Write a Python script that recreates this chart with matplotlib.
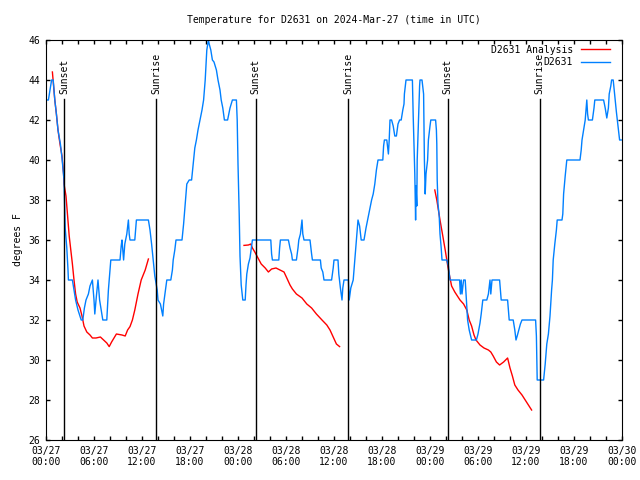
import matplotlib
matplotlib.use('Agg')
import matplotlib.pyplot as plt
import matplotlib.dates as mdates
import pandas as pd

# observations: hours after 2024-03-27 00:00 UTC, degrees F
obs_hours = [0.0, 0.3, 0.5, 0.7, 0.9, 1.1, 1.3, 1.5, 1.8, 2.0, 2.2, 2.25, 2.4, 2.6, 2.75, 2.8,
             3.3, 3.5, 3.7, 4.0, 4.4, 4.6, 4.8, 5.0, 5.3, 5.5, 5.8, 6.0, 6.1, 6.3, 6.5, 6.7,
             6.9, 7.1, 7.6, 7.8, 8.1, 9.25, 9.4, 9.5, 9.7, 9.85, 10.1, 10.3, 10.4, 10.5, 11.1,
             11.3, 12.8, 13.0, 13.2, 13.4, 13.6, 13.9, 14.0, 14.3, 14.6, 14.7, 15.1, 15.6,
             15.8, 15.9, 16.1, 16.25, 17.0, 17.2, 17.4, 17.6, 17.9, 18.2, 18.4, 18.6, 18.8,
             19.0, 19.25, 19.5, 19.7, 19.9, 20.1, 20.3, 20.4, 20.6, 20.8, 21.0, 21.3, 21.5,
             21.75, 21.9, 22.1, 22.3, 22.7, 23.0, 23.3, 23.8, 23.9, 24.0, 24.15, 24.25, 24.4,
             24.6, 24.9, 25.0, 25.1, 25.3, 25.5, 25.6, 25.8, 28.1, 28.2, 28.3, 29.1, 29.2,
             29.3, 30.3, 30.5, 30.7, 30.8, 31.3, 31.5, 31.6, 31.8, 32.0, 32.1, 32.25, 33.0,
             33.2, 33.3, 34.3, 34.4, 34.6, 34.75, 35.7, 35.9, 36.0, 36.5, 36.6, 36.8, 37.0,
             37.1, 37.25, 37.8, 37.9, 38.1, 38.4, 38.6, 38.8, 39.0, 39.2, 39.4, 39.75, 40.0,
             40.3, 40.5, 40.7, 40.9, 41.1, 41.3, 41.5, 42.1, 42.2, 42.3, 42.6, 42.8, 42.9,
             43.0, 43.2, 43.4, 43.6, 43.8, 44.0, 44.2, 44.4, 44.6, 44.75, 44.8, 45.0, 45.8,
             45.9, 46.1, 46.2, 46.25, 46.35, 46.4, 46.6, 46.7, 46.75, 47.0, 47.2, 47.3, 47.4,
             47.5, 47.7, 47.8, 48.0, 48.1, 48.7, 48.8, 48.85, 48.9, 49.0, 49.15, 49.25, 49.4,
             49.5, 50.1, 50.3, 50.5, 51.7, 51.8, 51.9, 52.0, 52.2, 52.4, 52.6, 52.7, 52.9,
             53.2, 53.8, 54.0, 54.25, 54.4, 54.6, 55.1, 55.3, 55.5, 55.6, 55.75, 56.7, 56.9,
             57.7, 57.9, 58.4, 58.6, 58.75, 58.9, 59.1, 59.3, 59.5, 61.2, 61.3, 61.4, 62.2,
             62.4, 62.6, 62.8, 63.0, 63.2, 63.3, 63.4, 63.6, 63.8, 63.9, 64.5, 64.6, 64.7,
             64.9, 65.1, 66.75, 66.9, 67.0, 67.2, 67.4, 67.6, 67.7, 67.8, 68.3, 68.5, 68.6,
             69.7, 69.9, 70.1, 70.3, 70.4, 70.6, 70.7, 70.9, 71.1, 71.3, 71.5, 71.7, 71.9]
obs_temp = [43, 43, 43.5, 44, 44, 43, 42.3, 41.5, 40.8, 40.1, 39.2, 39, 36.6, 35.6, 34.5, 34,
            34, 33.5, 33, 32.5, 32, 32, 32.6, 33, 33.3, 33.7, 34, 33, 32.3, 33.2, 34, 33,
            32.5, 32, 32, 33.5, 35, 35, 35.7, 36, 35, 35.8, 36.3, 37, 36.3, 36, 36,
            37, 37, 36.5, 35.8, 35, 34.2, 33.5, 33, 32.8, 32.2, 32.8, 34, 34,
            34.5, 35, 35.5, 36, 36, 36.8, 37.8, 38.8, 39, 39, 39.8, 40.6, 41,
            41.5, 42, 42.5, 43, 44, 45.5, 46, 45.8, 45.5, 45, 44.9, 44.5, 44,
            43.5, 43, 42.6, 42, 42, 42.6, 43, 43, 42, 39.8, 37.3, 35.2, 33.75,
            33, 33, 33.75, 34.3, 34.8, 35.1, 35.4, 36, 36, 35.3, 35, 35, 35.6,
            36, 36, 35.6, 35.3, 35, 35, 35.6, 36, 36.3, 37, 36.3, 36, 36,
            35.3, 35, 35, 34.6, 34.4, 34, 34, 34.6, 35, 35, 34.3, 33.6, 33,
            33.6, 34, 34, 33, 33.6, 34, 35, 36, 37, 36.7, 36, 36, 36.6,
            37.2, 37.6, 38, 38.3, 38.8, 39.5, 40, 40, 40.7, 41, 41, 40.3, 41,
            42, 42, 41.7, 41.2, 41.2, 41.8, 42, 42, 42.5, 42.8, 43.3, 44, 44,
            42.2, 39.3, 37, 38.7, 37.7, 40, 42.5, 43.7, 44, 44, 43.3, 40, 38.3,
            39.3, 40, 41, 41.7, 42, 42, 41.5, 40.8, 39, 37.8, 37.2, 36.3, 35.6,
            35, 35, 34.7, 34, 34, 33.3, 34, 33.3, 34, 34, 32.7, 32, 31.5,
            31, 31, 31.3, 31.85, 32.3, 33, 33, 33.3, 34, 33.3, 34, 34, 33,
            33, 32, 32, 31.5, 31, 31.2, 31.5, 31.8, 32, 32, 31.2, 29, 29,
            29.8, 30.8, 31.3, 32.2, 33.5, 34, 35, 35.8, 36.5, 37, 37, 37.3, 38.3,
            39.2, 40, 40, 40.5, 41, 41.5, 42, 43, 42.3, 42, 42, 42.6, 43,
            43, 42.6, 42.1, 42.6, 43.3, 43.7, 44, 44, 43.2, 42.4, 41.7, 41, 41]

# analysis, three runs
ana1_hours = [0.8, 1.1, 1.3, 1.5, 1.75, 2.0, 2.2, 2.25, 2.5, 2.7, 2.9, 3.1, 3.3, 3.5, 3.7,
              3.9, 4.25, 4.5, 4.75, 5.1, 5.5, 5.8, 6.25, 6.8, 7.2, 7.6, 7.9, 8.2, 8.8, 9.5,
              9.9, 10.2, 10.5, 10.8, 11.1, 11.5, 11.9, 12.4, 12.8]
ana1_temp = [44.4, 43, 42.3, 41.5, 40.8, 40.2, 39.3, 38.8, 38.2, 37.2, 36.2, 35.5, 34.8, 34, 33.3,
             32.9, 32.6, 32.2, 31.7, 31.4, 31.25, 31.1, 31.1, 31.15, 31.0, 30.85, 30.67, 30.9, 31.3, 31.25,
             31.2, 31.5, 31.67, 32, 32.5, 33.3, 34, 34.5, 35.05]
ana2_hours = [24.75, 25.3, 25.6, 25.8, 26.1, 26.5, 26.9, 27.4, 27.8, 28.2, 28.75, 29.25, 29.75,
              30.1, 30.5, 30.8, 31.3, 32.0, 32.6, 33.2, 33.8, 34.5, 35.1, 35.5, 35.9, 36.3, 36.7]
ana2_temp = [35.73, 35.75, 35.8, 35.6, 35.4, 35.1, 34.8, 34.6, 34.4, 34.55, 34.6, 34.5, 34.4,
             34.1, 33.75, 33.55, 33.3, 33.1, 32.8, 32.6, 32.3, 32.0, 31.75, 31.5, 31.15, 30.8, 30.67]
ana3_hours = [48.6, 48.85, 49.25, 49.6, 49.9, 50.2, 50.4, 50.6, 50.7, 51.1, 51.75, 52.2, 52.6,
              52.9, 53.2, 53.5, 53.75, 54.25, 54.75, 55.3, 55.6, 55.9, 56.3, 56.7, 57.2, 57.7,
              58.0, 58.3, 58.6, 59.0, 59.5, 59.9, 60.3, 60.7]
ana3_temp = [38.5, 38, 37, 36.2, 35.5, 34.75, 34.3, 33.9, 33.7, 33.4, 33.0, 32.8, 32.5,
             32, 31.7, 31.25, 31.0, 30.75, 30.6, 30.5, 30.4, 30.2, 29.9, 29.75, 29.9, 30.1,
             29.6, 29.2, 28.75, 28.5, 28.25, 28.0, 27.75, 27.5]

sun_hours = [2.25, 13.8, 26.2, 37.8, 50.2, 61.7]
sun_labels = ['Sunset', 'Sunrise', 'Sunset', 'Sunrise', 'Sunset', 'Sunrise']

start = pd.Timestamp('2024-03-27 00:00')
def to_time(h):
    return start + pd.to_timedelta(h, unit='h')

plt.rcParams['font.family'] = 'DejaVu Sans Mono'
plt.rcParams['font.size'] = 7

fig = plt.figure(figsize=(6.4, 4.8), dpi=100)
ax = fig.add_axes([46 / 640, 40 / 480, 576 / 640, 400 / 480])

ax.plot(to_time(ana1_hours), ana1_temp, color='red', lw=1, label='D2631 Analysis')
ax.plot(to_time(ana2_hours), ana2_temp, color='red', lw=1)
ax.plot(to_time(ana3_hours), ana3_temp, color='red', lw=1)
ax.plot(to_time(obs_hours), obs_temp, color='#0080ff', lw=1, label='D2631')

for h, lab in zip(sun_hours, sun_labels):
    t = to_time(h)
    ax.plot([t, t], [26, 43.05], color='black', lw=1)
    ax.text(t, 43.3, lab, rotation=90, ha='center', va='bottom', fontsize=7)

ax.set_xlim(start, to_time(72))
ax.set_ylim(26, 46)
ax.set_yticks(range(26, 47, 2))
ax.xaxis.set_major_locator(mdates.HourLocator(byhour=[0, 6, 12, 18]))
ax.xaxis.set_minor_locator(mdates.HourLocator(interval=2))
ax.xaxis.set_major_formatter(mdates.DateFormatter('%m/%d\n%H:%M'))
ax.tick_params(which='both', direction='in', top=True, right=True, length=3, width=1,
               labelsize=7, pad=4)

ax.set_ylabel('degrees F', fontsize=7)
ax.set_title('Temperature for D2631 on 2024-Mar-27 (time in UTC)', fontsize=7, pad=12)
ax.legend(loc='upper right', bbox_to_anchor=(1 - 6 / 576, 1 + 1 / 400), frameon=False,
          markerfirst=False, fontsize=7, handlelength=3.0, borderaxespad=0.2,
          labelspacing=0.25)

fig.savefig('out.png', dpi=100)
